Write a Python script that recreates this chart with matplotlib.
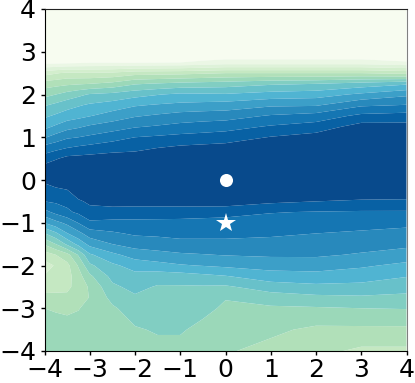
#!/usr/bin/env python3
import numpy as np
import matplotlib
matplotlib.use("Agg")
import matplotlib.pyplot as plt

W, H = 415, 383

# band value: 0 = lightest band, 14+ = darkest band
y_rows = [4, 3, 2.75, 2.5, 2.25, 2, 1.75, 1.5, 1.25, 1, .75, .5, .25, 0,
          -.25, -.5, -.75, -1, -1.25, -1.5, -1.75, -2, -2.25, -2.5, -2.75, -3, -3.5, -4]
x_cols = [-4, -3.75, -3.5, -3.25, -3, -2.5, -2, -1.5, -1, -.5, 0, 1, 2, 3, 4]

col_m400 = [0, 0, .6, 3.6, 5.5, 6.67, 7.9, 8.82, 9.71, 10.9, 12.4, 13.5, 14.5, 14.2,
            13.55, 13, 11.67, 10.05, 7.95, 6.1, 4.5, 3.6, 4.05, 4.6, 5.3, 6, 6.4, 6.6]
col_m375 = [0, 0, .65, 3.9, 5.65, 7, 8.25, 9.15, 10.15, 11.4, 12.7, 13.9, 14.8, 14.7,
            13.7, 13.15, 12.3, 10.7, 8.8, 7, 5, 4.1, 4.25, 4.7, 5.25, 5.9, 6.4, 6.6]
col_m350 = [0, 0, .7, 4.2, 5.8, 7.4, 8.6, 9.5, 10.6, 11.85, 13, 14.3, 15, 15,
            13.9, 13.3, 12.8, 11.25, 9.95, 8.2, 5.65, 4.7, 4.6, 4.8, 5.2, 5.8, 6.4, 6.6]
col_m325 = [0, 0, .8, 4.15, 5.9, 7.75, 8.9, 9.7, 10.85, 12, 13.2, 14.35, 15, 15,
            14.8, 13.8, 13.2, 12.05, 10.7, 9.3, 7.1, 6.1, 5.6, 5.35, 5.5, 5.95, 6.4, 6.6]
col_m300 = [0, 0, .9, 4.1, 6, 8.1, 9.15, 9.95, 11.15, 12.2, 13.35, 14.4, 15, 15,
            15, 14.25, 13.55, 12.85, 11.5, 10.3, 8.85, 7.8, 6.8, 6.15, 6.05, 6.3, 6.4, 6.6]
col_m250 = [0, 0, .9, 4.2, 6.3, 8.3, 9.45, 10.45, 11.5, 12.6, 13.6, 14.5, 15, 15,
            15, 14.4, 13.6, 12.75, 11.85, 11, 9.75, 8.8, 8.3, 7.8, 7.3, 6.85, 6.6, 6.7]
col_m200 = [0, 0, .9, 4.6, 6.9, 8.65, 9.9, 10.9, 11.9, 13, 13.75, 14.5, 15, 15,
            15, 14.4, 13.55, 12.75, 12.15, 11.4, 10.45, 9.4, 8.7, 8.3, 7.85, 7.5, 6.9, 6.7]
col_m150 = [0, 0, .95, 4.65, 7.1, 8.95, 10.1, 11.15, 12.1, 13.15, 14, 14.8, 15, 15,
            15, 14.45, 13.5, 12.75, 12.2, 11.55, 10.65, 9.65, 8.5, 7.9, 7.7, 7.5, 7.1, 6.7]
col_m100 = [0, 0, 1, 4.7, 7.3, 9.2, 10.25, 11.4, 12.3, 13.3, 14.2, 15, 15, 15,
            15, 14.5, 13.45, 12.75, 12.3, 11.7, 10.85, 9.9, 8.55, 7.9, 7.7, 7.5, 7.1, 6.7]
col_m050 = [0, 0, 1.2, 4.85, 7.4, 9.15, 10.35, 11.5, 12.45, 13.4, 14.3, 15, 15, 15,
            15, 14.55, 13.4, 12.7, 12.3, 11.7, 10.95, 10.05, 8.75, 7.9, 7.4, 7.25, 6.75, 6.3]
col_p000 = [0, 0, 1.4, 5, 7.5, 9.1, 10.45, 11.55, 12.6, 13.5, 14.4, 15, 15, 15,
            15, 14.6, 13.3, 12.7, 12.25, 11.75, 11.05, 10.2, 8.95, 7.85, 7.05, 6.85, 6.4, 6.1]
col_p100 = [0, 0, 1.4, 5, 7.85, 9.4, 10.85, 12.1, 13.1, 14.05, 15, 15, 15, 15,
            15, 14.2, 13.05, 12.6, 12.15, 11.7, 11.15, 10.4, 9.55, 8.5, 7.5, 6.85, 6.2, 5.7]
col_p200 = [0, 0, 1.4, 5, 8, 9.55, 10.9, 12.4, 13.45, 14.4, 15, 15, 15, 15,
            15, 14, 12.95, 12.5, 12, 11.6, 11.15, 10.45, 9.65, 8.75, 7.75, 6.9, 5.8, 5.3]
col_p300 = [0, 0, 1.4, 5, 8.4, 10.2, 11.85, 13.25, 14.4, 15, 15, 15, 15, 15,
            14.8, 13.85, 12.9, 12.4, 11.85, 11.4, 10.9, 10.15, 9.45, 8.7, 7.85, 7, 5.8, 4.8]
col_p400 = [0, 0, 1.1, 4.7, 8.85, 10.8, 12.05, 13.4, 14.35, 15, 15, 15, 15, 15,
            14.8, 13.8, 12.9, 12.25, 11.7, 11.25, 10.55, 9.75, 9.05, 8.4, 7.75, 7.05, 5.8, 4.8]

ticks = [-4, -3, -2, -1, 0, 1, 2, 3, 4]
circle_xy = (0, 0)
star_xy = (0, -1)


def main():
    z = np.array([col_m400, col_m375, col_m350, col_m325, col_m300, col_m250, col_m200,
                  col_m150, col_m100, col_m050, col_p000, col_p100, col_p200, col_p300,
                  col_p400]).T
    y = np.array(y_rows)[::-1]
    z = z[::-1]

    cmap = plt.get_cmap("GnBu")
    levels = list(range(15)) + [16]
    colors = [cmap(k / 14.5) for k in range(15)]

    fig = plt.figure(figsize=(W / 100, H / 100), dpi=100)
    ax = fig.add_axes([44.5 / W, 1 - 351 / H, 362 / W, 342 / H])
    ax.contourf(x_cols, y, z, levels=levels, colors=colors, antialiased=True)
    ax.plot(*circle_xy, "o", color="white", ms=9.4, mew=0)
    ax.plot(*star_xy, "*", color="white", ms=14.5, mew=0)

    ax.set_xlim(-4, 4)
    ax.set_ylim(-4, 4)
    ax.set_xticks(ticks)
    ax.set_yticks(ticks)
    ax.tick_params(labelsize=18, length=3, width=1, pad=3)
    ax.tick_params(axis="x", pad=2)
    ax.spines["right"].set_color("#808080")
    ax.spines["top"].set_color("#222222")

    fig.savefig("out.png", dpi=100)
    plt.close(fig)


if __name__ == "__main__":
    main()
